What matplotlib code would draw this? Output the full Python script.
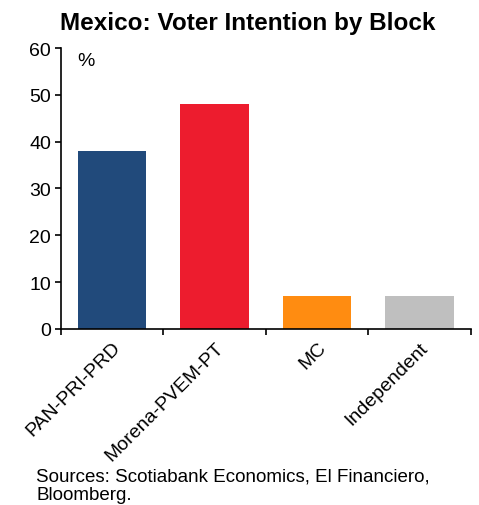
import matplotlib.pyplot as plt
import numpy as np

plt.rcParams['font.family'] = ['Liberation Sans', 'DejaVu Sans']

# data
blocks = ['PAN-PRI-PRD', 'Morena-PVEM-PT', 'MC', 'Independent']
intention = [38, 48, 7, 7]
colors = ['#214a7b', '#ed1c2e', '#ff8c11', '#bfbfbf']

fig = plt.figure(figsize=(4.79, 5.06), dpi=100)
ax = fig.add_axes([0.127, 0.348, 0.856, 0.555])

x = np.arange(len(blocks))
ax.bar(x, intention, width=0.67, color=colors)

# limits and ticks
ax.set_xlim(-0.5, len(blocks) - 0.5)
ax.set_ylim(0, 60)
ax.set_yticks(np.arange(0, 61, 10))
ax.tick_params(axis='y', labelsize=14, direction='out', length=4, width=1.2, pad=3)

# x ticks sit between categories, labels at bar centres
ax.set_xticks(np.arange(len(blocks) + 1) - 0.5)
ax.set_xticklabels([])
ax.tick_params(axis='x', which='major', direction='out', length=4, width=1.2)
ax.set_xticks(x, minor=True)
ax.set_xticklabels(blocks, minor=True, rotation=45, ha='right',
                   rotation_mode='anchor', fontsize=14)
ax.tick_params(axis='x', which='minor', length=0, pad=7)

for s in ['top', 'right']:
    ax.spines[s].set_visible(False)
for s in ['left', 'bottom']:
    ax.spines[s].set_linewidth(1.2)

ax.text(0.04, 0.985, '%', transform=ax.transAxes, fontsize=14, va='top')

fig.text(60/479, 0.941, 'Mexico: Voter Intention by Block', fontsize=17.5,
         fontweight='bold', va='baseline', ha='left')

fig.text(36/479, 1 - 469/506, 'Sources: Scotiabank Economics, El Financiero,\nBloomberg.',
         fontsize=13.5, va='top', ha='left', linespacing=1.05)

plt.savefig('out.png', dpi=100)
